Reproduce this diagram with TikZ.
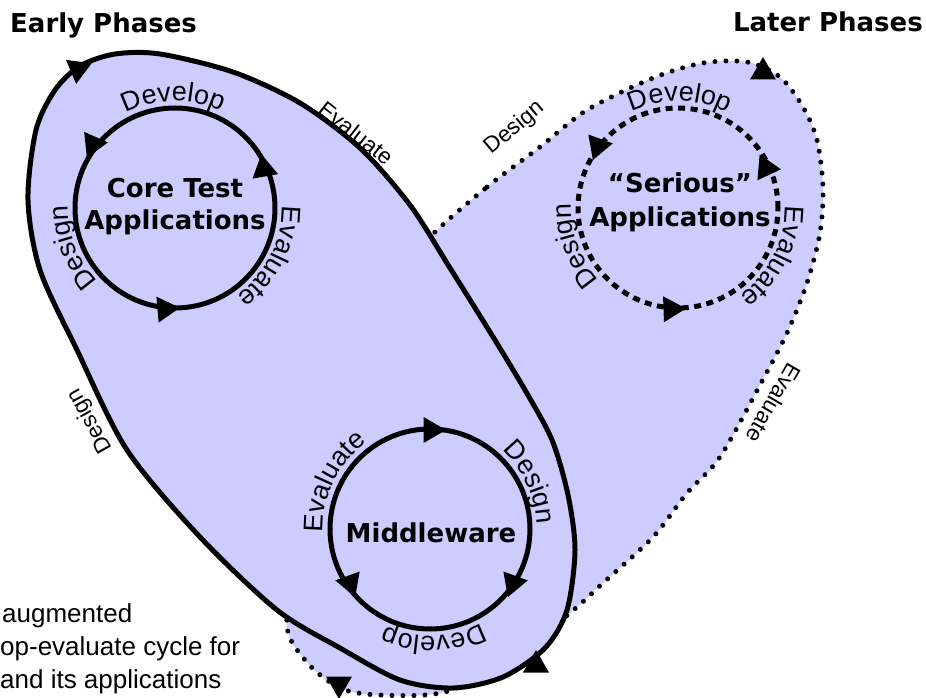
\documentclass[tikz,border=0pt]{standalone}
\usepackage{fontspec}
\setmainfont{Liberation Sans}
\newfontfamily\heavyfont{DejaVu Sans}
\usepackage{tikz}
\usetikzlibrary{decorations.text}
\definecolor{phasefill}{HTML}{CCCCFF}
\newcommand{\rr}{100}
\newcommand{\rb}{107}
\newcommand{\lblfont}{\fontsize{27}{32}\selectfont}
\newcommand{\loopfont}{\fontsize{22.5}{27}\selectfont}
\newcommand{\capfont}{\fontsize{26}{33}\selectfont}
\newcommand{\headfont}{\heavyfont\bfseries\fontsize{26}{32}\selectfont}
\newcommand{\arrtri}[3]{\fill[shift={(#1,-#2)}, rotate=#3] (0:15) -- (120:15) -- (240:15) -- cycle;}
\newcommand{\circlabel}[4]{\path[decorate, decoration={text along path, text align=center, text={|\lblfont|#4}}]
  (#1) ++(#2+90:#3) arc[start angle=#2+90, end angle=#2-90, radius=#3];}
\tikzset{
  solidloop/.style={fill=phasefill, draw=black, line width=5pt},
  dotloop/.style={fill=phasefill, draw=black, line width=5pt, line cap=round, dash pattern=on 0pt off 11pt},
  cycleline/.style={draw=black, line width=5pt},
  dashcycle/.style={draw=black, line width=5pt, dash pattern=on 7pt off 5.5pt},
}

\begin{document}
\begin{tikzpicture}[x=1pt, y=1pt]
\useasboundingbox (0,0) rectangle (926,-698);
\clip (0,0) rectangle (926,-698);
\coordinate (core) at (175,-208);
\coordinate (serious) at (678,-208);
\coordinate (mid) at (430,-529);

\filldraw[dotloop] plot[smooth cycle] coordinates {(430,-237) (487,-187) (540,-147) (587,-110)
  (653,-78) (703,-63) (747,-62) (780,-77) (803,-107) (817,-140) (823,-187) (820,-233) (807,-283)
  (787,-333) (760,-385) (720,-457) (687,-493) (653,-537) (603,-583) (570,-613) (510,-660)
  (445,-692) (380,-695) (340,-688) (305,-660) (287,-617) (320,-500) (370,-360) (405,-275)};
\filldraw[solidloop] plot[smooth cycle] coordinates {(28,-200) (36,-130) (55,-90) (80,-66)
  (115,-54) (160,-54) (233,-72) (300,-103) (360,-148) (410,-205) (450,-268) (490,-332)
  (525,-390) (552,-440) (568,-495) (575,-550) (567,-610) (545,-648) (503,-677)
  (453,-688) (400,-680) (340,-648) (277,-610) (200,-537) (127,-450) (77,-350) (40,-270)};

\draw[cycleline] (core) circle[radius=\rr];
\draw[dashcycle] (serious) circle[radius=\rr];
\draw[cycleline] (mid) circle[radius=\rr];

\arrtri{78}{69}{23}
\arrtri{536}{665}{90}
\arrtri{763}{72}{90}
\arrtri{339}{684}{-90}
\arrtri{93}{144}{6}
\arrtri{165}{309}{5}
\arrtri{264}{169}{100}
\arrtri{598}{146}{10}
\arrtri{671}{309}{2}
\arrtri{766}{168}{-5}
\arrtri{431}{430}{0}
\arrtri{513}{583}{10}
\arrtri{350}{583}{50}

\circlabel{core}{91}{\rb}{Develop}
\circlabel{core}{201}{\rb}{Design}
\circlabel{core}{-27}{\rb}{Evaluate}
\circlabel{serious}{89}{\rb}{Develop}
\circlabel{serious}{200}{\rb}{Design}
\circlabel{serious}{-27}{\rb}{Evaluate}
\circlabel{mid}{154}{\rb}{Evaluate}
\circlabel{mid}{25}{\rb}{Design}
\circlabel{mid}{-88}{\rb}{Develop}

\node[font=\headfont, align=center] (coretxt) at (175,-207) {Core Test\\Applications};
\node[font=\headfont, align=center] (serioustxt) at (680,-202) {“Serious”\\[2pt]Applications};
\node[font=\headfont] (midtxt) at (431,-533) {Middleware};

\node[font=\loopfont, rotate=-38] (evalearly) at (356,-133) {Evaluate};
\node[font=\loopfont, rotate=119] (designearly) at (90,-421) {Design};
\node[font=\loopfont, rotate=40] (designlater) at (515,-128) {Design};
\node[font=\loopfont, rotate=-120] (evallater) at (774,-403) {Evaluate};

\node[anchor=base west, font=\headfont, inner sep=0] (early) at (10,-33) {Early Phases};
\node[anchor=base east, font=\headfont, inner sep=0] (later) at (923,-32) {Later Phases};

\node[anchor=base west, font=\capfont, inner sep=0] (cap1) at (2,-622) {augmented};
\node[anchor=base west, font=\capfont, inner sep=0] (cap2) at (0,-655) {op-evaluate cycle for};
\node[anchor=base west, font=\capfont, inner sep=0] (cap3) at (0,-688) {and its applications};
\end{tikzpicture}
\end{document}
